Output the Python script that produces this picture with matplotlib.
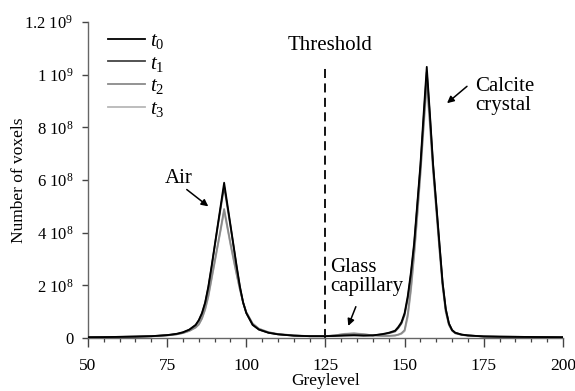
import matplotlib
matplotlib.use("Agg")
import matplotlib.pyplot as plt
import numpy as np
from matplotlib.ticker import MultipleLocator

plt.rcParams['font.family'] = ['Liberation Serif', 'DejaVu Serif']
plt.rcParams['mathtext.fontset'] = 'custom'
plt.rcParams['mathtext.rm'] = 'Liberation Serif'
plt.rcParams['mathtext.it'] = 'Liberation Serif:italic'

# Greylevel sample positions
greylevel = [50, 55, 60, 65, 70, 75, 78, 80, 82, 84,
             85, 86, 87, 88, 89, 90, 91, 92, 93, 94,
             95, 96, 97, 98, 99, 100, 102, 104, 107, 110,
             115, 120, 125, 128, 131, 134, 137, 140, 143, 145,
             147, 148, 149, 150, 151, 152, 153, 154, 155, 156,
             157, 158, 159, 160, 161, 162, 163, 164, 165, 166,
             168, 170, 175, 180, 190, 200]

# Number of voxels, in units of 1e8
t0 = [0.03, 0.035, 0.045, 0.055, 0.07, 0.11, 0.16, 0.22, 0.32, 0.50,
      0.68, 0.95, 1.35, 1.95, 2.70, 3.50, 4.30, 5.10, 5.90, 5.10,
      4.30, 3.50, 2.70, 1.95, 1.35, 0.95, 0.50, 0.32, 0.20, 0.14,
      0.09, 0.07, 0.07, 0.08, 0.09, 0.10, 0.09, 0.10, 0.15, 0.20,
      0.28, 0.42, 0.60, 0.95, 1.60, 2.50, 3.60, 5.10, 6.60, 8.50,
      10.30, 8.50, 6.60, 5.10, 3.60, 2.10, 1.10, 0.55, 0.30, 0.20,
      0.13, 0.10, 0.06, 0.05, 0.04, 0.03]
t1 = [0.03, 0.035, 0.045, 0.055, 0.07, 0.11, 0.15, 0.21, 0.31, 0.48,
      0.66, 0.92, 1.32, 1.90, 2.65, 3.45, 4.25, 5.00, 5.75, 5.00,
      4.25, 3.45, 2.65, 1.92, 1.34, 0.95, 0.50, 0.32, 0.20, 0.14,
      0.09, 0.07, 0.07, 0.09, 0.11, 0.12, 0.10, 0.10, 0.14, 0.18,
      0.25, 0.38, 0.55, 0.88, 1.50, 2.40, 3.50, 5.00, 6.50, 8.30,
      10.10, 8.40, 6.55, 5.05, 3.55, 2.10, 1.10, 0.55, 0.30, 0.20,
      0.13, 0.10, 0.06, 0.05, 0.04, 0.03]
t2 = [0.03, 0.035, 0.04, 0.05, 0.065, 0.10, 0.14, 0.19, 0.27, 0.40,
      0.52, 0.75, 1.10, 1.60, 2.25, 2.90, 3.55, 4.20, 4.90, 4.25,
      3.60, 3.00, 2.40, 1.85, 1.35, 0.98, 0.55, 0.35, 0.22, 0.15,
      0.10, 0.07, 0.07, 0.10, 0.15, 0.17, 0.14, 0.10, 0.08, 0.08,
      0.10, 0.13, 0.18, 0.30, 0.90, 1.90, 3.20, 4.70, 6.30, 8.10,
      9.80, 8.20, 6.40, 4.90, 3.40, 2.00, 1.00, 0.50, 0.28, 0.18,
      0.12, 0.09, 0.06, 0.05, 0.04, 0.03]
t3 = [0.03, 0.035, 0.04, 0.05, 0.065, 0.10, 0.14, 0.19, 0.27, 0.40,
      0.51, 0.73, 1.07, 1.55, 2.20, 2.85, 3.50, 4.15, 4.82, 4.20,
      3.55, 2.95, 2.38, 1.83, 1.35, 0.98, 0.55, 0.35, 0.22, 0.15,
      0.10, 0.07, 0.07, 0.10, 0.16, 0.18, 0.15, 0.10, 0.08, 0.08,
      0.09, 0.12, 0.16, 0.26, 0.80, 1.80, 3.10, 4.60, 6.20, 7.95,
      9.60, 8.05, 6.30, 4.85, 3.35, 1.95, 1.00, 0.50, 0.28, 0.18,
      0.12, 0.09, 0.06, 0.05, 0.04, 0.03]

series_labels = ['$t_0$', '$t_1$', '$t_2$', '$t_3$']
series_colors = ['#000000', '#444444', '#8a8a8a', '#b8b8b8']
unit = 1e8

xticks = [50, 75, 100, 125, 150, 175, 200]
yticks = [0, 2e8, 4e8, 6e8, 8e8, 1e9, 1.2e9]
yticklabels = ['0', r'2 $10^{8}$', r'4 $10^{8}$', r'6 $10^{8}$', r'8 $10^{8}$',
               r'1 $10^{9}$', r'1.2 $10^{9}$']
threshold = 125

fig = plt.figure(figsize=(5.75, 3.91), dpi=100)
ax = fig.add_axes([0.153, 0.1355, 0.826, 0.808])

x = np.array(greylevel)
lines = []
for data, lab, col, z in zip([t0, t1, t2, t3], series_labels, series_colors, [5, 4, 3, 2]):
    ln, = ax.plot(x, np.array(data) * unit, color=col, lw=1.3, label=lab, zorder=z)
    lines.append(ln)

ax.plot([threshold, threshold], [0, 1.025e9], ls=(0, (5, 3)), color='black', lw=1.3)

ax.set_xlim(50, 200)
ax.set_ylim(0, 1.2e9)
ax.set_xticks(xticks)
ax.xaxis.set_minor_locator(MultipleLocator(5))
ax.set_yticks(yticks)
ax.set_yticklabels(yticklabels)

for s in ['top', 'right']:
    ax.spines[s].set_visible(False)
for s in ['left', 'bottom']:
    ax.spines[s].set_color('#666666')
    ax.spines[s].set_linewidth(1.0)
ax.tick_params(axis='x', which='major', direction='out', length=6.5, width=1.0,
               color='#444444', labelsize=12.5, pad=8)
ax.tick_params(axis='x', which='minor', direction='out', length=3, width=0.9,
               color='#444444')
ax.tick_params(axis='y', which='major', direction='out', length=4.5, width=1.0,
               color='#444444', labelsize=12, pad=6)

ax.set_xlabel('Greylevel', fontsize=12.5, labelpad=-1)
ax.set_ylabel('Number of voxels', fontsize=12.5, labelpad=-2)

leg = ax.legend(handles=lines, loc='upper left', bbox_to_anchor=(0.015, 1.01),
                frameon=False, fontsize=15, handlelength=1.8, handletextpad=0.25,
                labelspacing=0.15, borderaxespad=0.2)

ann_fs = 15
arrow_kw = dict(arrowstyle='-|>', color='black', lw=1.1, mutation_scale=10,
                shrinkA=0, shrinkB=0)

ax.text(126.4, 1.112e9, 'Threshold', fontsize=ann_fs, ha='center', va='center')

ax.text(78.6, 6.07e8, 'Air', fontsize=ann_fs, ha='center', va='center')
ax.annotate('', xy=(88.0, 5.0e8), xytext=(81.2, 5.64e8), arrowprops=arrow_kw)

ax.text(172.2, 9.2e8, 'Calcite\ncrystal', fontsize=ann_fs, ha='left', va='center',
        linespacing=1.0)
ax.annotate('', xy=(163.4, 8.92e8), xytext=(169.7, 9.56e8), arrowprops=arrow_kw)

ax.text(126.4, 2.33e8, 'Glass\ncapillary', fontsize=ann_fs, ha='left', va='center',
        linespacing=1.0)
ax.annotate('', xy=(132.2, 0.46e8), xytext=(134.6, 1.19e8), arrowprops=arrow_kw)

fig.savefig('out.png', dpi=100)
